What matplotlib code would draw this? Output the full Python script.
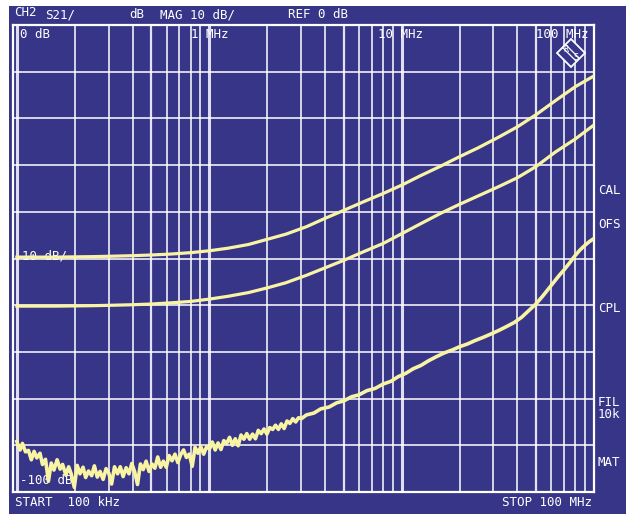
import numpy as np
import matplotlib
matplotlib.use('Agg')
import matplotlib.pyplot as plt
from matplotlib.patches import Polygon, Rectangle

# trace data (freq in kHz, level in dB)
freq_smooth = [100, 130, 160, 200, 250, 320, 400, 500, 630, 800, 1000, 1250, 1600, 2000,
               2500, 3200, 4000, 5000, 6300, 8000, 10000, 12500, 16000, 20000, 25000, 32000,
               40000, 50000, 63000, 80000, 100000]
db_top = [-49.7, -49.7, -49.7, -49.65, -49.6, -49.5, -49.4, -49.25, -49.05, -48.75, -48.35,
          -47.8, -47.0, -45.9, -44.8, -43.2, -41.4, -39.7, -37.9, -36.1, -34.3, -32.3, -30.2,
          -28.2, -26.3, -24.0, -21.8, -19.2, -16.2, -13.2, -10.9]
db_mid = [-60.2, -60.2, -60.2, -60.15, -60.1, -60.0, -59.9, -59.75, -59.5, -59.2, -58.7,
          -58.1, -57.3, -56.3, -55.2, -53.6, -52.0, -50.4, -48.6, -46.8, -44.7, -42.6, -40.3,
          -38.4, -36.6, -34.6, -32.7, -30.3, -27.2, -24.4, -21.4]

# bottom trace: noisy below ~3 MHz
freq_low = [100, 104, 107, 111, 115, 119, 123, 127, 132, 136, 141, 146, 151, 156, 162, 168,
            173, 180, 186, 192, 199, 206, 213, 221, 228, 236, 245, 253, 262, 271, 281, 291,
            301, 311, 322, 334, 345, 357, 370, 383, 396, 410, 424, 439, 454, 470, 487, 504,
            522, 540, 559, 578, 598, 619, 641, 664, 687, 711, 736, 761, 788, 816, 844, 874,
            904, 936, 969, 1003, 1038, 1074, 1112, 1151, 1191, 1232, 1276, 1320, 1366, 1414,
            1464, 1515, 1568, 1623, 1680, 1739, 1799, 1862, 1928, 1995, 2065, 2137, 2212,
            2289, 2369, 2452, 2538, 2627, 2719, 2814, 2913, 3015,
            3200, 3500, 3800, 4200, 4600, 5000, 5500, 6000, 6600, 7300, 8000, 8800, 9600,
            10500, 11500, 12600, 13800, 15200, 16700, 18300, 20000, 22000, 24000, 26500,
            29000, 32000, 35000, 38500, 42000, 46000, 50000, 54000, 58000, 62000, 66000,
            70000, 74500, 79000, 84000, 89000, 94500, 100000]
db_low = [-89.2, -91.0, -89.6, -91.4, -91.1, -93.1, -91.3, -92.7, -91.7, -94.1, -93.0, -97.7,
          -93.8, -95.3, -93.1, -95.1, -94.1, -96.4, -94.6, -96.2, -99.0, -94.3, -96.1, -94.7,
          -96.9, -95.5, -96.5, -94.4, -96.8, -95.6, -97.3, -95.0, -96.0, -98.3, -94.6, -96.1,
          -94.6, -96.7, -94.8, -96.1, -93.9, -95.7, -98.4, -94.0, -95.2, -93.4, -95.6, -94.0,
          -94.9, -92.5, -94.7, -93.4, -94.7, -92.2, -93.3, -91.9, -93.7, -92.0, -91.0, -92.6,
          -91.9, -94.5, -90.4, -91.7, -90.3, -91.9, -90.3, -90.8, -89.3, -91.0, -89.5, -90.9,
          -89.0, -89.6, -88.3, -90.0, -88.6, -90.1, -87.8, -88.7, -87.5, -88.7, -87.6, -88.6,
          -86.8, -87.5, -86.5, -87.6, -86.2, -86.6, -85.7, -86.6, -85.4, -86.4, -84.8, -85.3,
          -84.3, -85.0, -84.1, -84.3,
          -83.5, -83.1, -82.2, -81.8, -80.9, -80.5, -79.6, -79.2, -78.3, -77.8, -76.9, -76.3,
          -75.3, -74.6, -73.6, -72.9, -71.9, -71.0, -70.2, -69.6, -68.9, -68.3, -67.6, -66.9,
          -66.2, -65.4, -64.6, -63.7, -62.6, -61.1, -59.7, -58.1, -56.5, -55.0, -53.6, -52.4,
          -51.0, -49.6, -48.3, -47.3, -46.4, -45.7]

W, H = 626, 514
bg = '#373588'
trace = '#f8f4a4'
mono = 'DejaVu Sans Mono'

fig = plt.figure(figsize=(W / 100, H / 100), dpi=100)
fig.patch.set_facecolor('white')
fig.patches.append(Rectangle((9 / W, -0.01), 1.0, 1.01 - 6 / H, transform=fig.transFigure,
                             facecolor=bg, edgecolor='none', zorder=-10))

ax = fig.add_axes([13 / W, 1 - 492 / H, 581 / W, 467 / H])
ax.set_facecolor(bg)
ax.set_xscale('log')
ax.set_xlim(1e5 * 10 ** (-3.8 / 192.4), 1e8)
ax.set_ylim(-100, 0)
ax.set_xticks([])
ax.set_yticks([])
ax.minorticks_off()
for s in ax.spines.values():
    s.set_color('white')
    s.set_linewidth(1.6)

# graticule
for dec in [1e5, 1e6, 1e7]:
    for m in range(1, 10):
        f = m * dec
        if m == 1:
            ax.axvline(f, color='#dedcf0', lw=2.2, zorder=1)
        elif m == 5:
            ax.axvline(f, color='#e4e2f2', lw=1.6, zorder=1)
        else:
            ax.axvline(f, color='white', lw=1.1, zorder=1)
for lev in range(-90, 0, 10):
    ax.axhline(lev, color='white', lw=1.1, zorder=1)

ax.plot(np.array(freq_smooth) * 1e3, db_top, color=trace, lw=2.3, zorder=3)
ax.plot(np.array(freq_smooth) * 1e3, db_mid, color=trace, lw=2.3, zorder=3)
ax.plot(np.array(freq_low) * 1e3, db_low, color=trace, lw=2.6, zorder=3)


def label(x, y, s, ha='left', z=5, target=fig):
    target.text(x / W, 1 - y / H, s, ha=ha, va='center', color='white',
                fontsize=9, family=mono, transform=fig.transFigure, zorder=z)


# header
label(14, 13, 'CH2')
label(45, 15, 'S21/')
label(129, 15, 'dB')
label(160, 15, 'MAG 10 dB/')
label(288, 15, 'REF 0 dB')

# inside graticule
label(20, 35, '0 dB')
label(191, 35, '1 MHz')
label(378, 35, '10 MHz')
label(536, 35, '100 MHz')
label(22, 256, '10 dB/', z=2, target=ax)
label(20, 481, '-100 dB', z=2, target=ax)

# softkey labels
for y, s in [(190, 'CAL'), (225, 'OFS'), (308, 'CPL'), (402, 'FIL'), (414, '10k'), (462, 'MAT')]:
    label(598, y, s)

# footer
label(15, 502, 'START  100 kHz')
label(592, 503, 'STOP 100 MHz', ha='right')

# R&S logo
cx, cy, r = 571, 53, 14
pts = [((cx - r) / W, 1 - cy / H), (cx / W, 1 - (cy - r) / H),
       ((cx + r) / W, 1 - cy / H), (cx / W, 1 - (cy + r) / H)]
fig.patches.append(Polygon(pts, closed=True, transform=fig.transFigure, facecolor=bg,
                           edgecolor='white', lw=1.3, zorder=6))
for off in (-1.5, 1.5):
    fig.lines.append(plt.Line2D([(cx - 7 + off) / W, (cx + 7 + off) / W],
                                [1 - (cy - 7 - off) / H, 1 - (cy + 7 - off) / H],
                                transform=fig.transFigure, color='white', lw=0.9, zorder=7))
fig.text((cx - 5) / W, 1 - (cy - 4) / H, 'R', ha='center', va='center', color='white',
         fontsize=6, family=mono, zorder=8)
fig.text((cx + 5) / W, 1 - (cy + 5) / H, 'S', ha='center', va='center', color='white',
         fontsize=6, family=mono, zorder=8)

fig.savefig('out.png', dpi=100, facecolor=fig.get_facecolor())
